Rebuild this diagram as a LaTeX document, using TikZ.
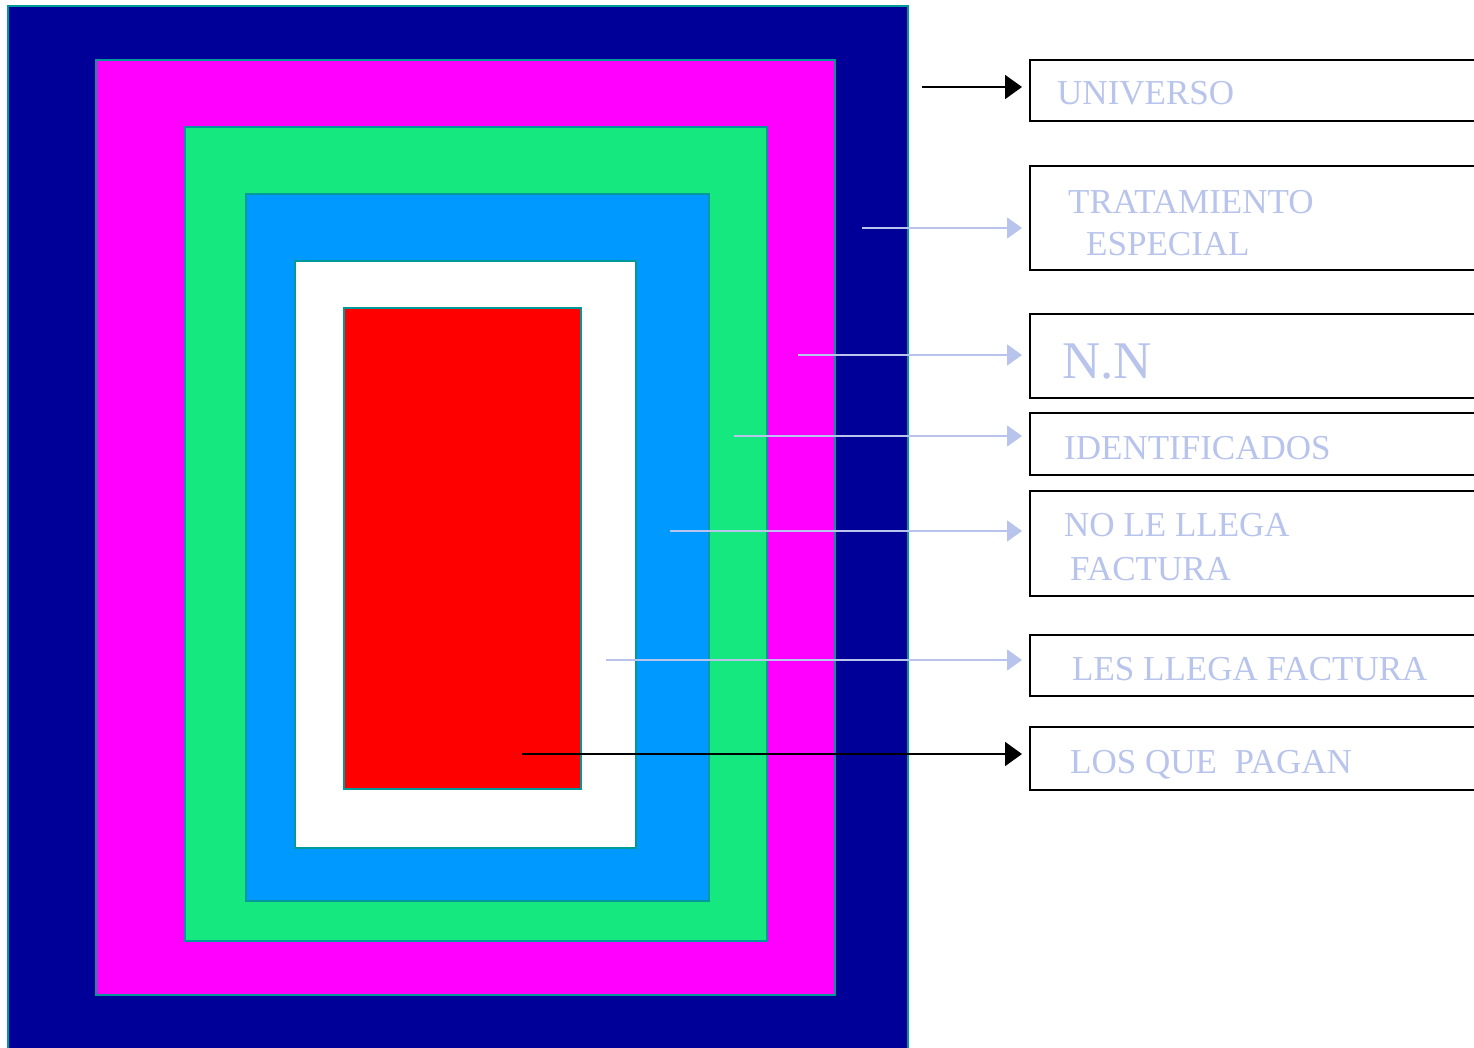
\documentclass[tikz,border=0pt]{standalone}
\usepackage{fontspec}
\setmainfont{Liberation Serif}
\usetikzlibrary{arrows.meta}
\definecolor{navy}{RGB}{0,0,153}
\definecolor{magen}{RGB}{255,0,255}
\definecolor{grn}{RGB}{22,232,128}
\definecolor{sky}{RGB}{0,153,255}
\definecolor{rd}{RGB}{255,0,0}
\definecolor{teal2}{RGB}{0,153,153}
\definecolor{lab}{RGB}{184,196,236}
\tikzset{
  layer/.style={draw=teal2, line width=1.5pt},
  lbox/.style={draw=black, line width=2pt, rectangle, anchor=north west, minimum width=470pt, inner sep=0pt},
  ltext/.style={anchor=base west, text=lab, inner sep=0pt, font=\fontsize{35}{40}\selectfont},
  darrow/.style={draw=black, line width=2pt, -{Triangle[length=17pt,width=24pt]}, shorten >=7pt},
  larrow/.style={draw=lab, line width=2pt, -{Triangle[length=15pt,width=21pt]}, shorten >=7pt},
}
\begin{document}
\begin{tikzpicture}[x=1pt,y=-1pt]
\clip (0,0) rectangle (1474,1048);
\fill[white] (0,0) rectangle (1474,1048);
% nested rectangles
\filldraw[layer, fill=navy]  (8,6) rectangle (908,1060);
\filldraw[layer, fill=magen] (96,60) rectangle (835,995);
\filldraw[layer, fill=grn]   (185,127) rectangle (767,941);
\filldraw[layer, fill=sky]   (246,194) rectangle (709,901);
\filldraw[layer, fill=white] (295,261) rectangle (636,848);
\filldraw[layer, fill=rd]    (344,308) rectangle (581,789);
% boxes
\node[lbox, minimum height=61pt]  (b1) at (1029,59.5) {};
\node[lbox, minimum height=104pt] (b2) at (1029,165.5) {};
\node[lbox, minimum height=83pt]  (b3) at (1029,313.5) {};
\node[lbox, minimum height=62pt]  (b4) at (1029,411.5) {};
\node[lbox, minimum height=105pt] (b5) at (1029,489.5) {};
\node[lbox, minimum height=61pt]  (b6) at (1029,633.5) {};
\node[lbox, minimum height=63pt]  (b7) at (1029,725.5) {};
% labels
\node[ltext] (t1) at (1057,105) {UNIVERSO};
\node[ltext] (t2a) at (1068,214) {TRATAMIENTO};
\node[ltext] (t2b) at (1086,256) {ESPECIAL};
\node[ltext, font=\fontsize{53}{60}\selectfont] (t3) at (1062,378) {N.N};
\node[ltext] (t4) at (1064,459) {IDENTIFICADOS};
\node[ltext] (t5a) at (1064,536) {NO LE LLEGA};
\node[ltext] (t5b) at (1070,580) {FACTURA};
\node[ltext] (t6) at (1072,680) {LES LLEGA FACTURA};
\node[ltext] (t7) at (1070,773) {LOS QUE\ \ PAGAN};
% arrow starts
\coordinate (c1) at (922,87);
\coordinate (c2) at (862,228);
\coordinate (c3) at (798,355);
\coordinate (c4) at (734,436);
\coordinate (c5) at (670,531);
\coordinate (c6) at (606,660);
\coordinate (c7) at (522,754);
\draw[darrow] (c1) -- (c1 -| b1.west);
\draw[larrow] (c2) -- (c2 -| b2.west);
\draw[larrow] (c3) -- (c3 -| b3.west);
\draw[larrow] (c4) -- (c4 -| b4.west);
\draw[larrow] (c5) -- (c5 -| b5.west);
\draw[larrow] (c6) -- (c6 -| b6.west);
\draw[darrow] (c7) -- (c7 -| b7.west);
\end{tikzpicture}
\end{document}
